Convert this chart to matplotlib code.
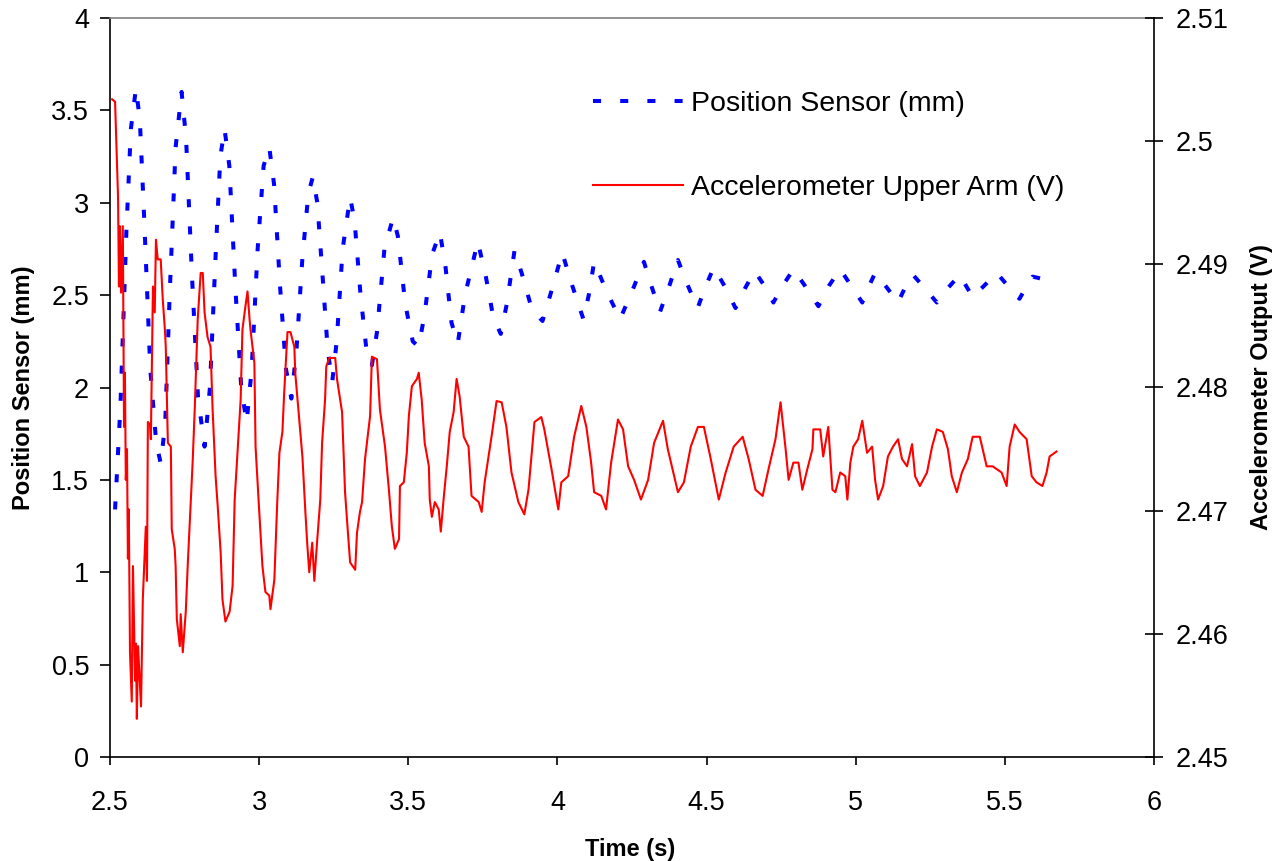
import matplotlib
matplotlib.use("Agg")
import matplotlib.pyplot as plt
from matplotlib.ticker import MultipleLocator, FuncFormatter

plt.rcParams['font.family'] = ['Liberation Sans', 'DejaVu Sans']

# position sensor (time s, mm)
blue_points = [
    (2.517, 1.34), (2.535, 1.90), (2.555, 2.85), (2.570, 3.40), (2.587, 3.62),
    (2.600, 3.45), (2.615, 2.90), (2.635, 2.10), (2.655, 1.70), (2.670, 1.59),
    (2.685, 1.80), (2.700, 2.50), (2.720, 3.30), (2.740, 3.60), (2.755, 3.35),
    (2.775, 2.60), (2.795, 1.95), (2.817, 1.68), (2.835, 2.00), (2.855, 2.75),
    (2.870, 3.25), (2.884, 3.40), (2.900, 3.20), (2.920, 2.55), (2.940, 2.00),
    (2.958, 1.81), (2.975, 2.10), (2.995, 2.75), (3.015, 3.20), (3.034, 3.30),
    (3.050, 3.10), (3.070, 2.55), (3.090, 2.10), (3.108, 1.94), (3.125, 2.20),
    (3.145, 2.70), (3.165, 3.05), (3.180, 3.14), (3.195, 3.00), (3.215, 2.55),
    (3.230, 2.20), (3.245, 2.03), (3.260, 2.25), (3.280, 2.75), (3.305, 3.03),
    (3.320, 2.90), (3.340, 2.50), (3.360, 2.20), (3.378, 2.12), (3.395, 2.30),
    (3.420, 2.75), (3.449, 2.92), (3.465, 2.82), (3.490, 2.45), (3.515, 2.25),
    (3.535, 2.22), (3.555, 2.40), (3.580, 2.72), (3.606, 2.84), (3.625, 2.65),
    (3.645, 2.35), (3.666, 2.24), (3.690, 2.50), (3.733, 2.79), (3.760, 2.60),
    (3.785, 2.38), (3.810, 2.29), (3.830, 2.45), (3.856, 2.74), (3.880, 2.62),
    (3.915, 2.42), (3.950, 2.36), (3.985, 2.55), (4.016, 2.73), (4.050, 2.55),
    (4.087, 2.37), (4.105, 2.50), (4.123, 2.68), (4.165, 2.52), (4.210, 2.37),
    (4.250, 2.52), (4.290, 2.68), (4.315, 2.55), (4.344, 2.41), (4.375, 2.55),
    (4.404, 2.69), (4.435, 2.56), (4.470, 2.43), (4.495, 2.54), (4.524, 2.65),
    (4.560, 2.55), (4.597, 2.43), (4.630, 2.54), (4.661, 2.63), (4.690, 2.56),
    (4.724, 2.46), (4.755, 2.55), (4.791, 2.64), (4.830, 2.55), (4.875, 2.44),
    (4.910, 2.55), (4.948, 2.64), (4.985, 2.55), (5.022, 2.46), (5.045, 2.55),
    (5.065, 2.62), (5.100, 2.55), (5.142, 2.46), (5.165, 2.54), (5.192, 2.61),
    (5.230, 2.54), (5.272, 2.46), (5.310, 2.54), (5.349, 2.61), (5.370, 2.55),
    (5.392, 2.49), (5.430, 2.55), (5.473, 2.62), (5.510, 2.55), (5.549, 2.48),
    (5.570, 2.54), (5.593, 2.60), (5.620, 2.59), (5.640, 2.57),
]

# accelerometer upper arm (time s, V)
red_points = [
    (2.507, 2.5034), (2.517, 2.5032), (2.527, 2.4954), (2.530, 2.4882), (2.533, 2.4931),
    (2.537, 2.4877), (2.543, 2.4931), (2.547, 2.4768), (2.550, 2.4812), (2.553, 2.4725),
    (2.557, 2.4750), (2.560, 2.4661), (2.563, 2.4701), (2.567, 2.4585), (2.573, 2.4545),
    (2.577, 2.4655), (2.584, 2.4562), (2.587, 2.4592), (2.590, 2.4531), (2.594, 2.4590),
    (2.604, 2.4541), (2.610, 2.4628), (2.620, 2.4687), (2.624, 2.4643), (2.627, 2.4772),
    (2.634, 2.4770), (2.637, 2.4758), (2.644, 2.4882), (2.650, 2.4861), (2.654, 2.4920),
    (2.660, 2.4904), (2.670, 2.4904), (2.677, 2.4871), (2.684, 2.4847), (2.687, 2.4833),
    (2.694, 2.4755), (2.704, 2.4752), (2.707, 2.4685), (2.717, 2.4669), (2.720, 2.4655),
    (2.724, 2.4612), (2.734, 2.4590), (2.737, 2.4616), (2.744, 2.4585),
    (2.754, 2.4618), (2.761, 2.4658), (2.771, 2.4709), (2.777, 2.4739), (2.784, 2.4782),
    (2.794, 2.4855), (2.804, 2.4893), (2.811, 2.4893), (2.817, 2.4861), (2.827, 2.4841),
    (2.837, 2.4833), (2.844, 2.4782), (2.854, 2.4728), (2.861, 2.4704), (2.871, 2.4666),
    (2.877, 2.4628), (2.887, 2.4610), (2.901, 2.4618), (2.911, 2.4639), (2.918, 2.4709),
    (2.928, 2.4750), (2.938, 2.4790), (2.944, 2.4847), (2.954, 2.4866), (2.961, 2.4878),
    (2.968, 2.4855), (2.971, 2.4847), (2.984, 2.4820), (2.988, 2.4752), (2.998, 2.4709),
    (3.011, 2.4655), (3.021, 2.4634), (3.034, 2.4631), (3.038, 2.4620), (3.051, 2.4644),
    (3.061, 2.4709), (3.068, 2.4747), (3.078, 2.4764), (3.084, 2.4796), (3.095, 2.4845),
    (3.105, 2.4845), (3.118, 2.4833), (3.121, 2.4812), (3.135, 2.4772), (3.145, 2.4744),
    (3.155, 2.4699), (3.161, 2.4674), (3.168, 2.4650), (3.178, 2.4674), (3.185, 2.4643),
    (3.195, 2.4677), (3.205, 2.4709), (3.211, 2.4755), (3.221, 2.4790), (3.225, 2.4817),
    (3.235, 2.4824), (3.255, 2.4824), (3.261, 2.4807), (3.278, 2.4780), (3.288, 2.4715),
    (3.295, 2.4691), (3.305, 2.4658), (3.322, 2.4652), (3.328, 2.4682), (3.338, 2.4699),
    (3.345, 2.4707), (3.355, 2.4742), (3.372, 2.4777), (3.378, 2.4825), (3.395, 2.4823),
    (3.405, 2.4782), (3.422, 2.4752), (3.435, 2.4717), (3.445, 2.4687), (3.455, 2.4669),
    (3.469, 2.4677), (3.472, 2.4720), (3.485, 2.4723), (3.495, 2.4747), (3.502, 2.4777),
    (3.512, 2.4801), (3.529, 2.4807), (3.535, 2.4812), (3.545, 2.4790), (3.555, 2.4755),
    (3.569, 2.4736), (3.572, 2.4709), (3.579, 2.4695), (3.589, 2.4707), (3.602, 2.4701),
    (3.609, 2.4683), (3.619, 2.4711), (3.629, 2.4736), (3.639, 2.4764), (3.652, 2.4780),
    (3.662, 2.4807), (3.672, 2.4793), (3.686, 2.4760), (3.702, 2.4752), (3.712, 2.4712),
    (3.736, 2.4707), (3.746, 2.4699), (3.756, 2.4723), (3.779, 2.4760), (3.796, 2.4789),
    (3.813, 2.4788), (3.829, 2.4768), (3.846, 2.4731), (3.869, 2.4707), (3.889, 2.4697),
    (3.903, 2.4717), (3.913, 2.4744), (3.923, 2.4772), (3.946, 2.4776), (3.956, 2.4766),
    (3.980, 2.4734), (4.003, 2.4701), (4.013, 2.4723), (4.036, 2.4728), (4.056, 2.4760),
    (4.080, 2.4785), (4.097, 2.4768), (4.113, 2.4739), (4.123, 2.4715), (4.147, 2.4712),
    (4.163, 2.4701), (4.180, 2.4739), (4.203, 2.4774), (4.220, 2.4766), (4.237, 2.4736),
    (4.257, 2.4725), (4.280, 2.4709), (4.304, 2.4725), (4.324, 2.4755), (4.354, 2.4773),
    (4.370, 2.4750), (4.404, 2.4715), (4.424, 2.4723), (4.447, 2.4752), (4.471, 2.4768),
    (4.491, 2.4768), (4.514, 2.4742), (4.541, 2.4709), (4.564, 2.4731), (4.591, 2.4752),
    (4.621, 2.4760), (4.641, 2.4742), (4.664, 2.4717), (4.688, 2.4712), (4.708, 2.4734),
    (4.731, 2.4758), (4.748, 2.4788), (4.765, 2.4750), (4.775, 2.4725), (4.791, 2.4739),
    (4.808, 2.4739), (4.821, 2.4717), (4.838, 2.4734), (4.855, 2.4750), (4.858, 2.4766),
    (4.881, 2.4766), (4.891, 2.4744), (4.908, 2.4768), (4.922, 2.4717), (4.932, 2.4715),
    (4.948, 2.4731), (4.965, 2.4728), (4.972, 2.4709), (4.982, 2.4739), (4.992, 2.4752),
    (5.008, 2.4758), (5.022, 2.4773), (5.038, 2.4747), (5.055, 2.4752), (5.065, 2.4725),
    (5.075, 2.4709), (5.092, 2.4720), (5.108, 2.4744), (5.125, 2.4752), (5.142, 2.4758),
    (5.155, 2.4742), (5.172, 2.4736), (5.189, 2.4754), (5.199, 2.4728), (5.215, 2.4720),
    (5.239, 2.4731), (5.256, 2.4752), (5.272, 2.4766), (5.292, 2.4764), (5.309, 2.4750),
    (5.322, 2.4728), (5.339, 2.4715), (5.356, 2.4731), (5.376, 2.4742), (5.392, 2.4760),
    (5.416, 2.4760), (5.439, 2.4736), (5.459, 2.4736), (5.489, 2.4731), (5.506, 2.4720),
    (5.516, 2.4752), (5.533, 2.4770), (5.549, 2.4764), (5.573, 2.4758), (5.590, 2.4728),
    (5.606, 2.4723), (5.626, 2.4720), (5.640, 2.4731), (5.650, 2.4744), (5.673, 2.4748),
]

blue_t = [p[0] for p in blue_points]
blue_y = [p[1] for p in blue_points]
red_t = [p[0] for p in red_points]
red_y = [p[1] for p in red_points]

fig = plt.figure(figsize=(12.83, 8.61), dpi=100)
ax = fig.add_axes([110 / 1283, 1 - 757 / 861, 1044 / 1283, 739 / 861])
ax2 = ax.twinx()

l1, = ax.plot(blue_t, blue_y, color='#0000FF', lw=2.9, linestyle=(0, (2, 4.75)),
              dash_capstyle='butt', label='Position Sensor (mm)')
l2, = ax2.plot(red_t, red_y, color='#FF0000', lw=1.5, label='Accelerometer Upper Arm (V)')

ax.set_xlim(2.5, 6)
ax.set_ylim(0, 4)
ax2.set_ylim(2.45, 2.51)
ax.xaxis.set_major_locator(MultipleLocator(0.5))
ax.yaxis.set_major_locator(MultipleLocator(0.5))
ax2.yaxis.set_major_locator(MultipleLocator(0.01))
fmt = FuncFormatter(lambda v, p: '%g' % round(v, 3))
ax.xaxis.set_major_formatter(fmt)
ax.yaxis.set_major_formatter(fmt)
ax2.yaxis.set_major_formatter(fmt)

for a in (ax, ax2):
    for s in a.spines.values():
        s.set_linewidth(1.2)
        s.set_color('black')
ax.spines['top'].set_color('#808080')
ax2.spines['top'].set_visible(False)
ax.spines['right'].set_visible(False)
ax2.spines['left'].set_visible(False)
ax2.spines['bottom'].set_visible(False)

ax.tick_params(axis='y', direction='out', length=7, width=1.2, labelsize=19.5, pad=8)
ax.tick_params(axis='x', direction='out', length=6, width=1.2, labelsize=19.5, pad=18)
ax2.tick_params(axis='y', direction='inout', length=13, width=1.2, labelsize=19.5, pad=9)

ax.set_xlabel('Time (s)', fontsize=17, fontweight='bold')
ax.set_ylabel('Position Sensor (mm)', fontsize=17, fontweight='bold')
ax2.set_ylabel('Accelerometer Output (V)', fontsize=17, fontweight='bold')
ax.xaxis.set_label_coords(0.498, -0.110)
ax.yaxis.set_label_coords(-0.072, 0.5)
ax2.yaxis.set_label_coords(1.092, 0.5)

fig.legend(handles=[l1, l2], loc='upper left', bbox_to_anchor=(593 / 1283, 1 - 91 / 861),
           frameon=False, fontsize=20.5, handlelength=3.16, handletextpad=0.28,
           labelspacing=2.05, borderpad=0, borderaxespad=0)

fig.savefig('out.png', dpi=100)
